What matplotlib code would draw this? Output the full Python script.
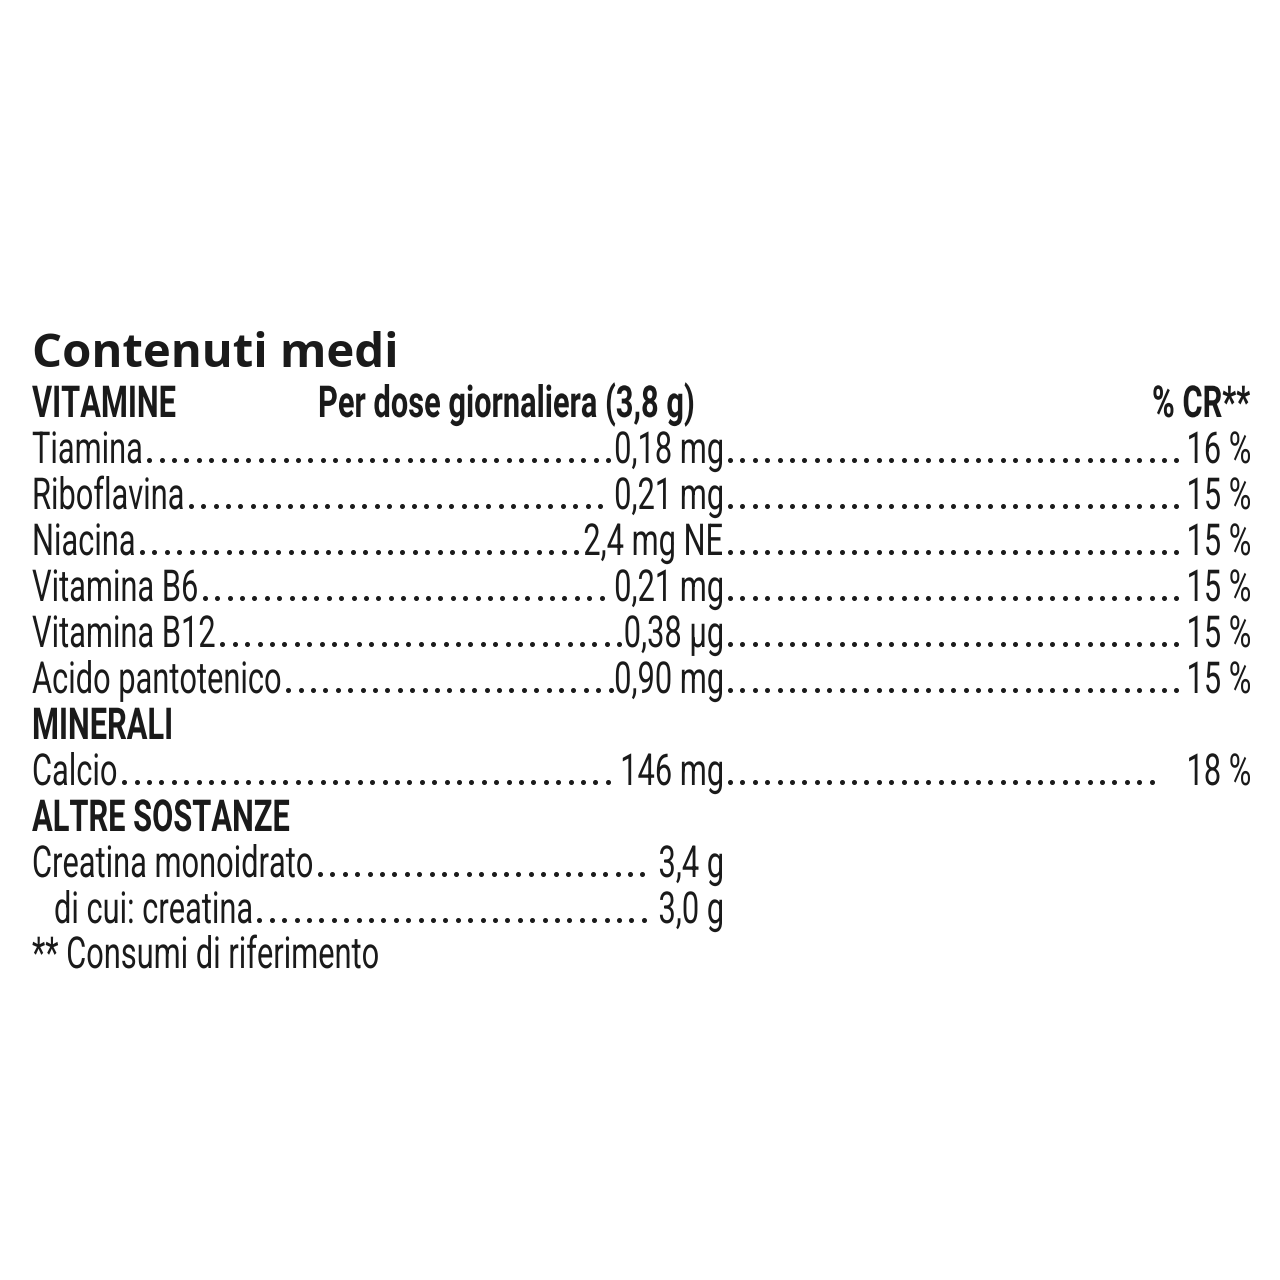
import numpy as np
import matplotlib
matplotlib.use("Agg")
import matplotlib.pyplot as plt
from matplotlib.textpath import TextPath
from matplotlib.patches import PathPatch
from matplotlib.font_manager import FontProperties
from matplotlib.transforms import Affine2D

title = "Contenuti medi"
header = ["VITAMINE", "Per dose giornaliera (3,8 g)", "% CR**"]
vit_names = ["Tiamina", "Riboflavina", "Niacina", "Vitamina B6", "Vitamina B12", "Acido pantotenico"]
vit_amounts = ["0,18 mg", "0,21 mg", "2,4 mg NE", "0,21 mg", "0,38 µg", "0,90 mg"]
vit_cr = ["16 %", "15 %", "15 %", "15 %", "15 %", "15 %"]
min_names = ["Calcio"]
min_amounts = ["146 mg"]
min_cr = ["18 %"]
other_names = ["Creatina monoidrato", "di cui: creatina"]
other_amounts = ["3,4 g", "3,0 g"]
footnote = "** Consumi di riferimento"

fig = plt.figure(figsize=(12.8, 12.8), dpi=100)
ax = fig.add_axes([0, 0, 1, 1])
ax.set_xlim(0, 1280); ax.set_ylim(1280, 0); ax.axis("off")

EM = 44      # pixel em size
SX = 0.70    # horizontal squeeze to imitate a condensed face
REG = FontProperties(family="Roboto")
BOLD = FontProperties(family="Roboto", weight="bold")

def txt(x, y, s, ha="left", bold=False):
    # condensed text drawn as a squeezed glyph path, baseline at y
    p = TextPath((0, 0), s, size=EM, prop=BOLD if bold else REG)
    w = p.get_extents().x1 * SX
    x0 = x - w if ha == "right" else x
    tr = Affine2D().scale(SX, -1).translate(x0, y) + ax.transData
    ax.add_patch(PathPatch(p, transform=tr, fc="#1a1a1a", ec="none", lw=0))
    return x0, x0 + w

def dots(x0, x1, y):
    xs = np.arange(x0 + 8, x1 - 3, 12.4)
    ax.plot(xs, np.full_like(xs, y - 3), "o", ms=2.6, color="#1a1a1a")

ax.text(32, 367, title, va="baseline", fontsize=34, family=["Open Sans", "DejaVu Sans"],
        fontweight="bold", color="#1a1a1a")
txt(32, 417, header[0], bold=True)
txt(318, 417, header[1], bold=True)
txt(1250, 417, header[2], ha="right", bold=True)

y = 463
step = 46
for n, a, c in zip(vit_names, vit_amounts, vit_cr):
    _, e = txt(32, y, n)
    s, _ = txt(722, y, a, ha="right")
    dots(e, s, y)
    cs, _ = txt(1250, y, c, ha="right")
    dots(722, cs, y)
    y += step
txt(32, y, "MINERALI", bold=True); y += step
for n, a, c in zip(min_names, min_amounts, min_cr):
    _, e = txt(32, y, n)
    s, _ = txt(722, y, a, ha="right")
    dots(e, s - 6, y)
    cs, _ = txt(1250, y, c, ha="right")
    dots(722, cs - 20, y)
    y += step
txt(32, y, "ALTRE SOSTANZE", bold=True); y += step
for i, (n, a) in enumerate(zip(other_names, other_amounts)):
    _, e = txt(32 if i == 0 else 54, y, n)
    s, _ = txt(722, y, a, ha="right")
    dots(e, s - 6, y)
    y += step
txt(32, y - 1, footnote)

fig.savefig("out.png", dpi=100, facecolor="white")
